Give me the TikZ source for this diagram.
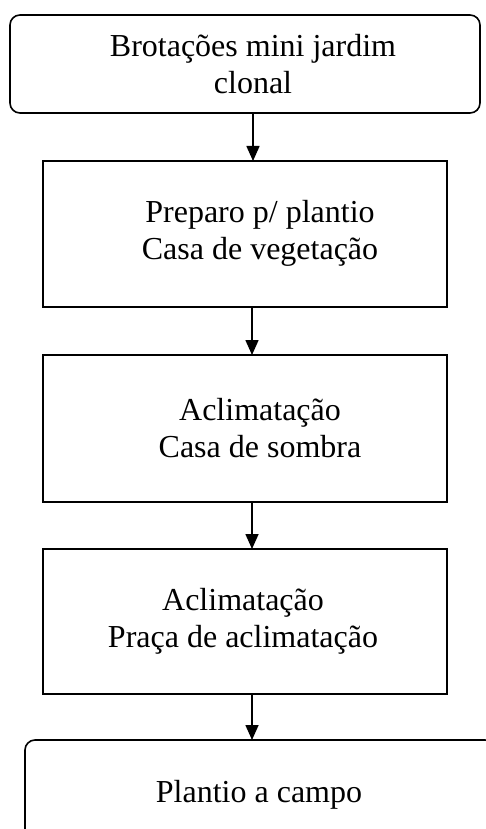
\documentclass[tikz,border=0pt]{standalone}
\usepackage{fontspec}
\setmainfont{Liberation Serif}
\usetikzlibrary{arrows.meta}
\begin{document}
\begin{tikzpicture}[x=1pt,y=-1pt,
  flowbox/.style={draw,line width=1.6pt,inner sep=0pt,outer sep=0pt},
  rbox/.style={flowbox,rounded corners=10pt},
  lbl/.style={font=\fontsize{32}{37}\selectfont,align=center,inner sep=0pt},
  conn/.style={line width=1.6pt,-{Triangle[length=15pt,width=13pt]}}]
\useasboundingbox (0,0) rectangle (486,829);
\clip (0,0) rectangle (486,829);
\node[rbox,minimum width=470pt,minimum height=98pt] (b1) at (245,64) {};
\node[lbl] (t1) at (253,64) {Brotações mini jardim\\clonal};
\node[flowbox,minimum width=404pt,minimum height=146pt] (b2) at (245,234) {};
\node[lbl] (t2) at (260,233) {Preparo p/ plantio\\Casa de vegetação};
\node[flowbox,minimum width=404pt,minimum height=147pt] (b3) at (245,428.5) {};
\node[lbl] (t3) at (260,428) {Aclimatação\\Casa de sombra};
\node[flowbox,minimum width=404pt,minimum height=145pt] (b4) at (245,621.5) {};
\node[lbl] (t4) at (243,621) {Aclimatação\\Praça de aclimatação};
\node[rbox,minimum width=470pt,minimum height=114pt] (b5) at (260,797) {};
\node[lbl] (t5) at (259,795) {Plantio a campo};
\draw[conn] ([xshift=8pt]b1.south) -- ([xshift=8pt]b2.north);
\draw[conn] ([xshift=7pt]b2.south) -- ([xshift=7pt]b3.north);
\draw[conn] ([xshift=7pt]b3.south) -- ([xshift=7pt]b4.north);
\draw[conn] ([xshift=7pt]b4.south) -- ([xshift=-8pt]b5.north);
\end{tikzpicture}
\end{document}
